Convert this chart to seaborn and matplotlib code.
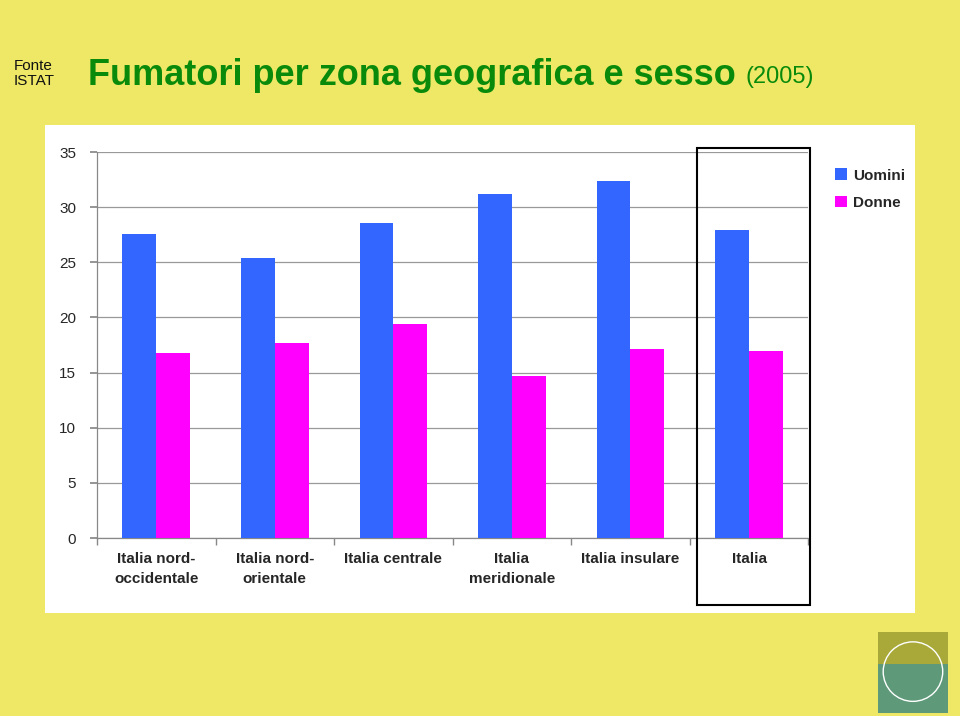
import matplotlib
matplotlib.use("Agg")
import matplotlib.pyplot as plt
import matplotlib.patches as mpatches
import seaborn as sns
import pandas as pd

categories = ["Italia nord-\noccidentale", "Italia nord-\norientale", "Italia centrale",
              "Italia\nmeridionale", "Italia insulare", "Italia"]
uomini = [27.6, 25.4, 28.6, 31.2, 32.4, 27.9]
donne = [16.8, 17.7, 19.4, 14.7, 17.1, 17.0]
series = ["Uomini", "Donne"]
colors = ["#3366FF", "#FF00FF"]

df = pd.DataFrame({
    "zona": categories * 2,
    "valore": uomini + donne,
    "sesso": [series[0]] * len(categories) + [series[1]] * len(categories),
})

sns.set_theme(style="white")
plt.rcParams["font.family"] = ["Liberation Sans", "DejaVu Sans"]

fig = plt.figure(figsize=(9.6, 7.16), dpi=100)
fig.patch.set_facecolor("#EEE866")

# white panel
fig.add_artist(mpatches.Rectangle((0.0469, 0.1439), 0.906, 0.6816, transform=fig.transFigure,
                                  facecolor="white", edgecolor="none", zorder=0))

ax = fig.add_axes([0.101, 0.2486, 0.741, 0.539])
ax.set_facecolor("white")
sns.barplot(data=df, x="zona", y="valore", hue="sesso", palette=colors, ax=ax,
            width=0.57, gap=0, saturation=1, legend=False, zorder=3, linewidth=0)

ax.set_xlim(-0.5, 5.5)
ax.set_ylim(0, 35)
ax.set_yticks(range(0, 36, 5))
ax.set_xlabel("")
ax.set_ylabel("")
ax.yaxis.grid(True, color="#999999", linewidth=0.9, zorder=0)
ax.set_axisbelow(True)
for s in ["top", "right"]:
    ax.spines[s].set_visible(False)
for s in ["left", "bottom"]:
    ax.spines[s].set_color("#888888")
    ax.spines[s].set_linewidth(0.9)
ax.tick_params(axis="y", length=5, color="#888888", direction="out", labelsize=11, pad=10, left=True)
ax.set_xticks(range(len(categories)))
ax.set_xticklabels(categories, fontsize=11, fontweight="bold", linespacing=1.6)
ax.tick_params(axis="x", length=0, pad=10)
ax.set_xticks([i - 0.5 for i in range(len(categories) + 1)], minor=True)
ax.tick_params(axis="x", which="minor", length=5, color="#888888", bottom=True)

# highlight box around "Italia"
fig.add_artist(mpatches.Rectangle((0.726, 0.155), 0.118, 0.638, transform=fig.transFigure,
                                  facecolor="none", edgecolor="black", linewidth=1.5, zorder=5))

# legend
handles = [mpatches.Patch(facecolor=c, edgecolor="none", label=l) for c, l in zip(colors, series)]
fig.legend(handles=handles, loc="upper left", bbox_to_anchor=(0.855, 0.784), frameon=False,
           prop={"size": 11, "weight": "bold"}, handlelength=0.8, handleheight=0.8,
           handletextpad=0.4, labelspacing=0.85)

# titles
fig.text(0.014, 0.897, "Fonte\nISTAT", fontsize=11, color="#111111", va="center", ha="left",
         linespacing=1.1)
t = fig.text(0.092, 0.895, "Fumatori per zona geografica e sesso", fontsize=26,
             fontweight="bold", color="#0A8A0A", va="center", ha="left")
fig.canvas.draw()
bb = t.get_window_extent().transformed(fig.transFigure.inverted())
fig.text(bb.x1 + 0.01, bb.y0 + 0.006, "(2005)", fontsize=17, color="#0A8A0A", va="bottom", ha="left")

# logo decoration
fig.add_artist(mpatches.Rectangle((0.915, 0.072), 0.073, 0.046, transform=fig.transFigure,
                                  facecolor="#A9A93A", edgecolor="none"))
fig.add_artist(mpatches.Rectangle((0.915, 0.004), 0.073, 0.068, transform=fig.transFigure,
                                  facecolor="#5E9A7A", edgecolor="none"))
fig.add_artist(mpatches.Ellipse((0.951, 0.062), 0.062, 0.062 * 960 / 716, transform=fig.transFigure,
                                facecolor="none", edgecolor="white", linewidth=1))

fig.savefig("out.png", dpi=100, facecolor=fig.get_facecolor())
